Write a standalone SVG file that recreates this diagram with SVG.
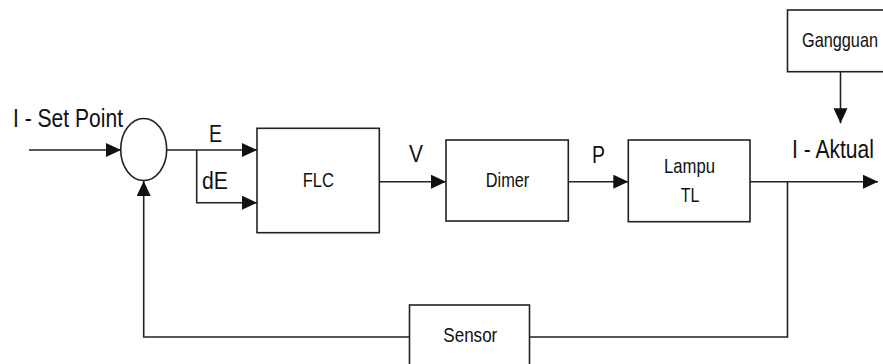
<svg xmlns="http://www.w3.org/2000/svg" width="883" height="364" viewBox="0 0 883 364">
<style>
.b{fill:#fff;stroke:#222;stroke-width:1.6}
.l{fill:none;stroke:#222;stroke-width:1.6}
text{font-family:"Liberation Sans",Arial,sans-serif;fill:#111}
.s{font-size:21px}
.m{font-size:23px}
.h{font-size:25px}
</style>
<defs>
<marker id="a" markerUnits="userSpaceOnUse" markerWidth="16" markerHeight="15" refX="15" refY="7" orient="auto">
<path d="M0,0 L15,7 L0,14 z" fill="#111"/>
</marker>
</defs>
<rect width="883" height="364" fill="#fff"/>
<g id="connectors">
<path class="l" d="M29,150 H121" marker-end="url(#a)"/>
<path class="l" d="M167,150 H257" marker-end="url(#a)"/>
<path class="l" d="M196.7,150 V202.7 H257" marker-end="url(#a)"/>
<path class="l" d="M379.3,181.7 H446" marker-end="url(#a)"/>
<path class="l" d="M568.3,181.7 H628.3" marker-end="url(#a)"/>
<path class="l" d="M750,181.7 H878" marker-end="url(#a)"/>
<path class="l" d="M840.5,71.7 V123.3" marker-end="url(#a)"/>
<path class="l" d="M787.5,181.7 V337 H529.5"/>
<path class="l" d="M409.5,337 H143.7 V181" marker-end="url(#a)"/>
</g>
<g id="labels">
<text class="h" x="13" y="126.7" textLength="110" lengthAdjust="spacingAndGlyphs">I - Set Point</text>
<text class="m" x="209" y="142" textLength="13" lengthAdjust="spacingAndGlyphs">E</text>
<text class="m" x="202" y="189" textLength="26" lengthAdjust="spacingAndGlyphs">dE</text>
<text class="m" x="409" y="161.7" textLength="14" lengthAdjust="spacingAndGlyphs">V</text>
<text class="m" x="592" y="163" textLength="13" lengthAdjust="spacingAndGlyphs">P</text>
<text class="h" x="792" y="158.3" textLength="82" lengthAdjust="spacingAndGlyphs">I - Aktual</text>
</g>
<g id="sum">
<ellipse class="b" cx="143.7" cy="149.5" rx="23" ry="31"/>
</g>
<g id="flc">
<rect class="b" x="257" y="128.3" width="122.3" height="104.4"/>
<text class="s" x="302.7" y="186.7" textLength="31.3" lengthAdjust="spacingAndGlyphs">FLC</text>
</g>
<g id="dimer">
<rect class="b" x="446" y="140" width="122.3" height="81"/>
<text class="s" x="485.7" y="186.7" textLength="43.6" lengthAdjust="spacingAndGlyphs">Dimer</text>
</g>
<g id="lampu">
<rect class="b" x="628.3" y="140" width="121.7" height="81.7"/>
<text class="s" x="664" y="173.3" textLength="51" lengthAdjust="spacingAndGlyphs">Lampu</text>
<text class="s" x="680.7" y="201.7" textLength="18.6" lengthAdjust="spacingAndGlyphs">TL</text>
</g>
<g id="gangguan">
<rect class="b" x="787.5" y="10" width="110" height="61.7"/>
<text class="s" x="802" y="47" textLength="76" lengthAdjust="spacingAndGlyphs">Gangguan</text>
</g>
<g id="sensor">
<rect class="b" x="409.5" y="305" width="120" height="70"/>
<text class="s" x="443.3" y="341.7" textLength="54" lengthAdjust="spacingAndGlyphs">Sensor</text>
</g>
</svg>
